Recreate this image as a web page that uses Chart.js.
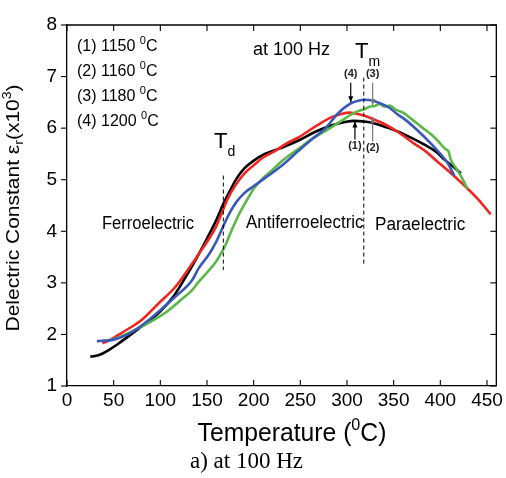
<!DOCTYPE html>
<html><head><meta charset="utf-8">
<script src="https://cdn.jsdelivr.net/npm/chart.js@4.4.1/dist/chart.umd.min.js"></script>
<style>html,body{margin:0;padding:0;background:#fff;}canvas{display:block;}</style>
</head><body>
<canvas id="c" width="506" height="478"></canvas>
<script>
// ---- data ----
const xTicks = [0, 50, 100, 150, 200, 250, 300, 350, 400, 450];
const yTicks = [1, 2, 3, 4, 5, 6, 7, 8];
const seriesNames = ['(1) 1150', '(2) 1160', '(3) 1180', '(4) 1200'];

const t1150 = [25, 30, 37, 45, 55, 70, 85, 100, 115, 130, 140, 150, 160, 168, 175, 182, 190, 200, 212, 230, 248, 265, 283, 298, 308, 318, 326, 335, 345, 355, 368, 383, 395, 405, 414, 422];
const e1150 = [1.57, 1.58, 1.62, 1.70, 1.82, 2.02, 2.22, 2.45, 2.76, 3.20, 3.52, 3.86, 4.22, 4.55, 4.80, 5.03, 5.22, 5.37, 5.50, 5.62, 5.76, 5.92, 6.05, 6.12, 6.14, 6.13, 6.11, 6.06, 6.00, 5.93, 5.82, 5.68, 5.55, 5.38, 5.25, 5.12];

const t1160 = [38, 45, 55, 65, 80, 98, 116, 134, 142, 152, 160, 166, 172, 180, 190, 200, 210, 223, 235, 248, 265, 283, 295, 302, 310, 319, 330, 340, 355, 372, 385, 397, 410, 425, 440, 454];
const e1160 = [1.83, 1.88, 1.99, 2.10, 2.28, 2.60, 2.92, 3.37, 3.58, 3.85, 4.10, 4.36, 4.62, 4.88, 5.12, 5.28, 5.43, 5.56, 5.70, 5.82, 6.02, 6.21, 6.28, 6.30, 6.28, 6.24, 6.16, 6.08, 5.92, 5.70, 5.54, 5.35, 5.15, 4.90, 4.63, 4.33];

const t1180 = [42, 52, 65, 80, 95, 109, 120, 134, 141, 152, 160, 166, 170, 176, 184, 191, 201, 210, 220, 230, 248, 265, 280, 294, 305, 312, 319, 325, 330, 335, 340, 346, 352, 360, 369, 380, 390, 397, 405, 409, 411, 417, 423, 427, 429];
const e1180 = [1.88, 1.92, 2.02, 2.15, 2.30, 2.47, 2.64, 2.86, 3.02, 3.24, 3.42, 3.60, 3.74, 4.00, 4.32, 4.55, 4.85, 5.03, 5.19, 5.36, 5.60, 5.82, 5.98, 6.14, 6.27, 6.33, 6.37, 6.42, 6.43, 6.47, 6.42, 6.44, 6.36, 6.30, 6.18, 6.02, 5.88, 5.76, 5.60, 5.54, 5.40, 5.22, 5.04, 4.90, 4.82];

const t1200 = [32, 40, 48, 60, 70, 85, 98, 116, 134, 141, 152, 160, 168, 175, 182, 190, 198, 212, 230, 248, 262, 276, 290, 304, 312, 319, 326, 333, 345, 354, 362, 376, 390, 400, 408, 415];
const e1200 = [1.87, 1.88, 1.89, 1.96, 2.05, 2.24, 2.44, 2.73, 3.05, 3.28, 3.55, 3.80, 4.12, 4.38, 4.58, 4.74, 4.85, 5.03, 5.27, 5.56, 5.78, 5.98, 6.28, 6.48, 6.53, 6.55, 6.54, 6.50, 6.40, 6.27, 6.17, 5.95, 5.70, 5.50, 5.32, 5.08];

const SANS = '"Liberation Sans", Arial, Helvetica, sans-serif';
const pts = (xs, ys) => xs.map((v, i) => ({x: v, y: ys[i]}));

function mk(label, xs, ys, color) {
  return {label, data: pts(xs, ys), borderColor: color, backgroundColor: color,
    borderWidth: 2.6, pointRadius: 0, showLine: true, cubicInterpolationMode: 'monotone', fill: false};
}

function line(ctx, x1, y1, x2, y2) { ctx.beginPath(); ctx.moveTo(x1, y1); ctx.lineTo(x2, y2); ctx.stroke(); }

function richWidth(ctx, segs, family) {
  let w = 0; segs.forEach(s => { ctx.font = s.size + 'px ' + family; w += ctx.measureText(s.t).width; }); return w;
}
function drawRich(ctx, segs, x, y, family, align) {
  const w = richWidth(ctx, segs, family);
  let cx = align === 'center' ? x - w / 2 : (align === 'right' ? x - w : x);
  ctx.textAlign = 'left'; ctx.textBaseline = 'alphabetic';
  segs.forEach(s => { ctx.font = s.size + 'px ' + family; ctx.fillText(s.t, cx, y + (s.dy || 0)); cx += ctx.measureText(s.t).width; });
}
function squeezeText(ctx, text, x, y, font, align, sx) {
  ctx.save(); ctx.translate(x, y); ctx.scale(sx, 1); ctx.font = font; ctx.textAlign = align; ctx.textBaseline = 'middle';
  ctx.fillText(text, 0, 0); ctx.restore();
}
function arrow(ctx, x, y1, y2, color) {
  ctx.strokeStyle = color; ctx.fillStyle = color; ctx.lineWidth = 1.2;
  line(ctx, x, y1, x, y2);
  const d = y2 > y1 ? 1 : -1;
  ctx.beginPath(); ctx.moveTo(x, y2); ctx.lineTo(x - 2.5, y2 - d * 6); ctx.lineTo(x + 2.5, y2 - d * 6); ctx.closePath(); ctx.fill();
}

const decor = {
  id: 'decor',
  afterDatasetsDraw(chart) {
    const {ctx, chartArea: a, scales: {x, y}} = chart;
    ctx.save();
    ctx.strokeStyle = '#000'; ctx.lineWidth = 1.3;
    ctx.beginPath(); ctx.moveTo(a.left, a.top); ctx.lineTo(a.right, a.top); ctx.lineTo(a.right, a.bottom); ctx.stroke();
    ctx.lineWidth = 1.1;
    xTicks.forEach(v => { const p = x.getPixelForValue(v); line(ctx, p, a.bottom, p, a.bottom - 6); line(ctx, p, a.top, p, a.top + 6); });
    yTicks.forEach(v => { const p = y.getPixelForValue(v); line(ctx, a.left - 6, p, a.left, p); line(ctx, a.right, p, a.right - 6, p); });

    ctx.setLineDash([4, 3]); ctx.lineWidth = 1; ctx.strokeStyle = '#000';
    line(ctx, x.getPixelForValue(167.5), y.getPixelForValue(5.08), x.getPixelForValue(167.5), y.getPixelForValue(3.25));
    line(ctx, x.getPixelForValue(318), y.getPixelForValue(6.98), x.getPixelForValue(318), y.getPixelForValue(3.37));
    ctx.setLineDash([]);

    arrow(ctx, x.getPixelForValue(304), y.getPixelForValue(6.88), y.getPixelForValue(6.50), '#000');
    arrow(ctx, x.getPixelForValue(327.5), y.getPixelForValue(6.88), y.getPixelForValue(6.45), '#777');
    arrow(ctx, x.getPixelForValue(308.5), y.getPixelForValue(5.78), y.getPixelForValue(6.13), '#000');
    arrow(ctx, x.getPixelForValue(327.5), y.getPixelForValue(5.74), y.getPixelForValue(6.22), '#777');

    ctx.fillStyle = '#222';
    ctx.font = 'bold 11px ' + SANS; ctx.textAlign = 'center'; ctx.textBaseline = 'middle';
    ctx.fillText('(4)', x.getPixelForValue(304), y.getPixelForValue(7.06));
    ctx.fillText('(3)', x.getPixelForValue(327.5), y.getPixelForValue(7.06));
    ctx.fillText('(1)', x.getPixelForValue(308.5), y.getPixelForValue(5.66));
    ctx.fillText('(2)', x.getPixelForValue(327.5), y.getPixelForValue(5.62));

    ctx.fillStyle = '#000';
    drawRich(ctx, [{t: 'T', size: 22}, {t: 'm', size: 14, dy: 8}], 355, 58, SANS, 'left');
    drawRich(ctx, [{t: 'T', size: 22}, {t: 'd', size: 14, dy: 8}], 214, 148, SANS, 'left');

    const legY = [51, 76, 101, 126];
    seriesNames.forEach((n, i) => {
      drawRich(ctx, [{t: n + ' ', size: 16}, {t: '0', size: 11, dy: -7}, {t: 'C', size: 16}], 77, legY[i], SANS, 'left');
    });
    drawRich(ctx, [{t: 'at 100 Hz', size: 18}], 253, 55, SANS, 'left');

    squeezeText(ctx, 'Ferroelectric', 102, 224, '18px ' + SANS, 'left', 0.92);
    squeezeText(ctx, 'Antiferroelectric', 246, 223, '18px ' + SANS, 'left', 0.94);
    squeezeText(ctx, 'Paraelectric', 375, 225, '18px ' + SANS, 'left', 0.95);

    ctx.save(); ctx.translate(19, 208); ctx.rotate(-Math.PI / 2); ctx.scale(1, 0.85);
    drawRich(ctx, [{t: 'Delectric Constant ε', size: 21}, {t: 'r', size: 14, dy: 5}, {t: '(x10', size: 21}, {t: '3', size: 14, dy: -9}, {t: ')', size: 21}], 0, 0, SANS, 'center');
    ctx.restore();

    ctx.save(); ctx.translate(292, 441); ctx.scale(0.95, 1);
    drawRich(ctx, [{t: 'Temperature (', size: 26}, {t: '0', size: 17, dy: -11}, {t: 'C)', size: 26}], 0, 0, SANS, 'center');
    ctx.restore();

    ctx.font = '23px "Liberation Serif", "Times New Roman", serif'; ctx.textAlign = 'center'; ctx.textBaseline = 'alphabetic';
    ctx.fillText('a) at 100 Hz', 246.5, 468);
    ctx.restore();
  }
};

new Chart(document.getElementById('c'), {
  type: 'scatter',
  data: {datasets: [
    mk(seriesNames[3], t1200, e1200, '#3a58b8'),
    mk(seriesNames[2], t1180, e1180, '#5ab846'),
    mk(seriesNames[1], t1160, e1160, '#f22420'),
    mk(seriesNames[0], t1150, e1150, '#000000')
  ]},
  options: {
    responsive: false, animation: false, devicePixelRatio: 1,
    layout: {padding: {left: 0, right: 7.5, top: 25, bottom: 0}},
    plugins: {legend: {display: false}, tooltip: {enabled: false}},
    scales: {
      x: {type: 'linear', min: 0, max: 460,
        afterBuildTicks: s => { s.ticks = xTicks.map(v => ({value: v})); },
        afterFit: s => { s.height = 92; },
        grid: {display: false, drawTicks: false, tickLength: 0},
        border: {display: true, color: '#000', width: 1.3},
        ticks: {padding: 3, color: '#000', font: {family: SANS, size: 19}, maxRotation: 0, autoSkip: false}},
      y: {type: 'linear', min: 1, max: 8,
        afterBuildTicks: s => { s.ticks = yTicks.map(v => ({value: v})); },
        afterFit: s => { s.width = 67; },
        grid: {display: false, drawTicks: false, tickLength: 0},
        border: {display: true, color: '#000', width: 1.3},
        ticks: {padding: 10, color: '#000', font: {family: SANS, size: 19}, autoSkip: false}}
    }
  },
  plugins: [decor]
});
</script>
</body></html>
